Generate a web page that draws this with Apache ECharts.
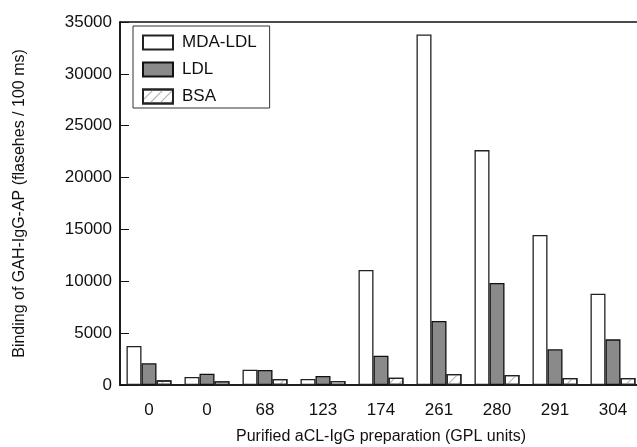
<!DOCTYPE html>
<html>
<head>
<meta charset="utf-8">
<script src="https://cdn.jsdelivr.net/npm/echarts@6/dist/echarts.min.js"></script>
<style>
  html, body { margin: 0; padding: 0; background: #fff; }
  #chart { width: 637px; height: 447px; }
</style>
</head>
<body>
<div id="chart"></div>
<script>
// GPL units of each purified aCL-IgG preparation
const categories = ['0', '0', '68', '123', '174', '261', '280', '291', '304']
const mdaLdl = [3760, 770, 1475, 580, 11100, 33800, 22650, 14460, 8800]
const ldl = [2090, 1090, 1450, 870, 2820, 6170, 9830, 3440, 4400]
const bsa = [450, 360, 580, 390, 700, 1060, 960, 675, 675]
const yTicks = { min: 0, max: 35000, interval: 5000 }

const font = 'Liberation Sans, Arial, sans-serif'
const chart = echarts.init(document.getElementById('chart'))

const option = {
  animation: false,
  backgroundColor: '#fff',
  textStyle: { fontFamily: font },
  legend: {
    orient: 'vertical',
    left: 133,
    top: 26,
    padding: [8, 13, 3, 9],
    itemGap: 10,
    itemWidth: 30,
    itemHeight: 14,
    borderColor: '#333',
    borderWidth: 1,
    icon: 'rect',
    textStyle: { fontSize: 17, color: '#111', fontFamily: font, padding: [0, 0, 0, 4] },
    data: ['MDA-LDL', 'LDL', 'BSA']
  },
  grid: {
    left: 120,
    right: -5,
    top: 22,
    bottom: 62,
    outerBoundsMode: 'none',
    show: true,
    borderColor: '#111',
    borderWidth: 1.5
  },
  xAxis: {
    type: 'category',
    data: categories,
    name: 'Purified aCL-IgG preparation (GPL units)',
    nameLocation: 'middle',
    nameGap: 44,
    nameTextStyle: { fontSize: 16, color: '#111', fontFamily: font },
    axisLine: { lineStyle: { color: '#111', width: 1.5 } },
    axisTick: { show: false },
    axisLabel: { fontSize: 17, color: '#111', margin: 17, fontFamily: font }
  },
  yAxis: {
    type: 'value',
    min: yTicks.min,
    max: yTicks.max,
    interval: yTicks.interval,
    name: 'Binding of GAH-IgG-AP (flasehes / 100 ms)',
    nameLocation: 'middle',
    nameGap: 92,
    nameTextStyle: { fontSize: 16, color: '#111', fontFamily: font },
    axisLine: { show: true, lineStyle: { color: '#111', width: 1.5 } },
    axisTick: { show: true, inside: true, length: 9, lineStyle: { color: '#111' } },
    splitLine: { show: false },
    axisLabel: {
      fontSize: 17,
      color: '#111',
      margin: 8,
      fontFamily: font,
      formatter: (v) => String(v)
    }
  },
  series: [
    {
      name: 'MDA-LDL',
      type: 'bar',
      data: mdaLdl,
      barWidth: 15,
      barGap: '0%',
      itemStyle: { color: '#fff', borderColor: '#222', borderWidth: 1.3 }
    },
    {
      name: 'LDL',
      type: 'bar',
      data: ldl,
      barWidth: 15,
      barGap: '0%',
      itemStyle: { color: '#8a8a8a', borderColor: '#111', borderWidth: 1.3 }
    },
    {
      name: 'BSA',
      type: 'bar',
      data: bsa,
      barWidth: 15,
      barGap: '0%',
      itemStyle: {
        color: '#fff',
        borderColor: '#222',
        borderWidth: 1.3,
        decal: {
          symbol: 'rect',
          color: '#b0b0b0',
          dashArrayX: [1, 0],
          dashArrayY: [1, 6],
          rotation: -Math.PI / 4
        }
      }
    }
  ]
}

chart.setOption(option)
</script>
</body>
</html>
